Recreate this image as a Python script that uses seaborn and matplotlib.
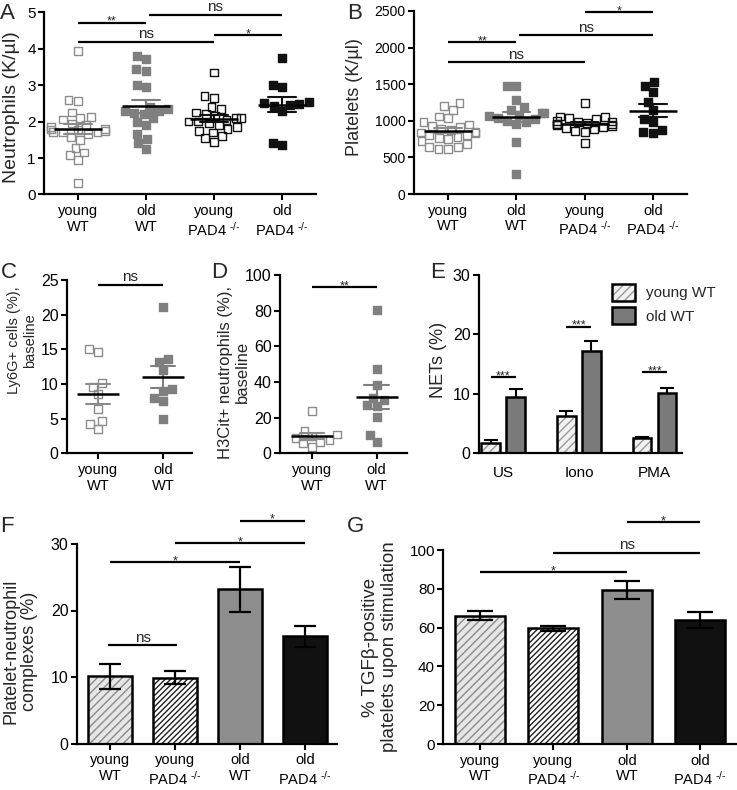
import numpy as np
import pandas as pd
import matplotlib
matplotlib.use("Agg")
import matplotlib.pyplot as plt
import seaborn as sns
from matplotlib.patches import Patch
from matplotlib.legend_handler import HandlerTuple

# ---------------- data ----------------
cats4 = ["young WT", "old WT", "young PAD4", "old PAD4"]
SUP = "$^{\u2010/\u2010}$"
cat_labels4 = ["young\nWT", "old\nWT", "young\nPAD4 " + SUP, "old\nPAD4 " + SUP]

a_young_wt = [3.95, 2.60, 2.56, 2.25, 2.12, 2.09, 2.06, 1.95, 1.90, 1.86, 1.80, 1.76, 1.72,
              1.70, 1.78, 1.74, 1.70, 1.65, 1.58, 1.50, 1.28, 1.15, 1.08, 0.95, 0.32]
a_old_wt = [3.80, 3.72, 3.44, 3.40, 3.00, 2.95, 2.40, 2.35, 2.30, 2.30, 2.25, 2.20, 2.10,
            2.00, 1.92, 1.65, 1.52, 1.40, 1.25]
a_young_pad4 = [3.35, 2.70, 2.65, 2.40, 2.35, 2.25, 2.20, 2.15, 2.10, 2.10, 2.05, 2.00, 2.00,
                1.95, 1.90, 1.85, 1.80, 1.75, 1.70, 1.60, 1.55, 1.45]
a_old_pad4 = [3.75, 3.00, 2.95, 2.55, 2.50, 2.48, 2.45, 2.42, 2.30, 1.40, 1.35]

b_young_wt = [1240, 1200, 1150, 1060, 1040, 980, 950, 930, 910, 890, 870, 850, 840, 830, 810,
              800, 780, 770, 750, 720, 680, 640, 620, 640, 620]
b_old_wt = [1480, 1470, 1290, 1190, 1150, 1100, 1100, 1080, 1060, 1040, 1020, 1000, 980, 960,
            710, 280]
b_young_pad4 = [1240, 1060, 1050, 1040, 1030, 1000, 990, 980, 970, 960, 950, 950, 940, 930,
                920, 900, 880, 860, 850, 700]
b_old_pad4 = [1530, 1480, 1400, 1260, 1150, 1030, 990, 880, 850, 830]

cats2 = ["young WT", "old WT"]
cat_labels2 = ["young\nWT", "old\nWT"]
c_young_wt = [15.1, 14.6, 10.1, 9.6, 8.5, 6.4, 4.7, 4.2, 3.5]
c_old_wt = [21.1, 13.6, 13.2, 12.0, 9.3, 9.0, 8.0, 7.5, 5.0]
d_young_wt = [23.6, 12.5, 10.5, 9.5, 8.5, 7.5, 6.5, 5.5, 3.5]
d_old_wt = [80.4, 47.1, 38.2, 31.3, 29.8, 27.0, 26.6, 20.5, 10.2, 6.5]

e_stim = ["US", "Iono", "PMA"]
e_ages = ["young WT", "old WT"]
e_young_mean = [1.8, 6.3, 2.5]
e_young_sem = [0.45, 0.9, 0.3]
e_old_mean = [9.4, 17.2, 10.2]
e_old_sem = [1.4, 1.7, 0.8]

fg_cats = ["young WT", "young PAD4", "old WT", "old PAD4"]
fg_labels = ["young\nWT", "young\nPAD4 " + SUP, "old\nWT", "old\nPAD4 " + SUP]
f_mean = [10.1, 9.9, 23.2, 16.1]
f_sem = [1.9, 1.0, 3.4, 1.6]
g_mean = [66.0, 59.6, 79.4, 63.9]
g_sem = [2.3, 1.2, 4.4, 4.3]

# significance brackets: (x1, x2, y, label)
sig_a = [(0, 1, 4.72, "**"), (0, 2, 4.19, "ns"), (1.04, 3, 4.94, "ns"), (2, 3, 4.38, "*")]
sig_b = [(0, 1, 2071, "**"), (0, 2, 1798, "ns"), (1.04, 3, 2166, "ns"), (2.01, 3, 2480, "*")]
sig_c = [(0, 1, 24.3, "ns")]
sig_d = [(0, 1, 93.2, "**")]
sig_e = [(-0.165, 0.165, 12.8, "***"), (0.835, 1.165, 21.3, "***"), (1.835, 2.165, 13.7, "***")]
sig_f = [(-0.03, 1.03, 14.8, "ns"), (0, 2, 27.3, "*"), (1, 3, 30.1, "*"), (2, 3, 33.5, "*")]
sig_g = [(0, 2, 88.7, "*"), (1, 3, 98.5, "ns"), (2, 3, 114.3, "*")]

# ---------------- style ----------------
sns.set_style("ticks")
plt.rcParams["font.family"] = ["Liberation Sans", "DejaVu Sans"]
plt.rcParams["mathtext.fontset"] = "custom"
plt.rcParams["mathtext.rm"] = "Liberation Sans"
plt.rcParams["mathtext.it"] = "Liberation Sans:italic"
plt.rcParams["mathtext.bf"] = "Liberation Sans:bold"
plt.rcParams["hatch.linewidth"] = 1.0

GRAY_OPEN = "#8c8c8c"
GRAY_FILL = "#7f7f7f"
BLACK = "#111111"

W, H = 737, 790
fig = plt.figure(figsize=(W / 100, H / 100), dpi=100)


def add_ax(l, t, r, b):
    return fig.add_axes([l / W, 1 - b / H, (r - l) / W, (b - t) / H])


def style_ax(ax, ylim, yticks, xlim, xlabels, num_fs=11, cat_fs=10.5, xtick_len=4, xpad=3):
    ax.set_ylim(*ylim)
    ax.set_yticks(yticks)
    ax.set_xlim(*xlim)
    ax.set_xticks(range(len(xlabels)))
    ax.set_xticklabels(xlabels, fontsize=cat_fs, linespacing=1.15)
    ax.tick_params(axis="y", labelsize=num_fs, width=1.5, length=4, pad=2, colors="black")
    ax.tick_params(axis="x", width=1.5, length=xtick_len, pad=xpad, colors="black")
    for s in ["top", "right"]:
        ax.spines[s].set_visible(False)
    for s in ["left", "bottom"]:
        ax.spines[s].set_linewidth(1.6)
        ax.spines[s].set_color("black")
    ax.set_xlabel("")
    ax.set_facecolor("none")


def ylabel(ax, text, fs, x, y):
    ax.set_ylabel(text, fontsize=fs, linespacing=1.15)
    ax.yaxis.set_label_coords(x, y)


def sig(ax, items):
    for x1, x2, y, label in items:
        ax.plot([x1, x2], [y, y], color="black", lw=1.6, clip_on=False,
                solid_capstyle="butt", zorder=5)
        if "*" in label:
            ax.annotate(label, ((x1 + x2) / 2, y), xytext=(0, -1.5), textcoords="offset points",
                        ha="center", va="baseline", fontsize=9, annotation_clip=False)
        else:
            ax.annotate(label, ((x1 + x2) / 2, y), xytext=(0, 2.5), textcoords="offset points",
                        ha="center", va="baseline", fontsize=11, annotation_clip=False)


def scatter_panel(ax, groups, cats, colors, filled, mean_w, cap):
    df = pd.DataFrame({"group": np.repeat(cats, [len(g) for g in groups]),
                       "value": np.concatenate(groups)})
    for cat, col, fill in zip(cats, colors, filled):
        sub = df[df["group"] == cat]
        n_before = len(ax.collections)
        sns.swarmplot(data=sub, x="group", y="value", order=cats, marker="s", size=5.6,
                      color=col, ax=ax, zorder=2, warn_thresh=1.0)
        for coll in ax.collections[n_before:]:
            coll.set_facecolor(col if fill else "none")
            coll.set_edgecolor(col)
            coll.set_linewidth(1.0)
    sns.pointplot(data=df, x="group", y="value", order=cats, hue="group", hue_order=cats,
                  palette=colors, errorbar="se", capsize=cap, linestyle="none", markersize=0,
                  err_kws={"linewidth": 1.5, "zorder": 3}, legend=False, ax=ax)
    sns.pointplot(data=df, x="group", y="value", order=cats, errorbar=None, color="black",
                  marker="_", markersize=mean_w, markeredgewidth=1.8, linestyle="none",
                  ax=ax, zorder=4)


def hatched_bars(ax, cats, means, fills, hatches, hatch_cols, width, **kw):
    sns.barplot(x=cats, y=means, hue=cats, order=cats, hue_order=cats, palette=fills,
                width=width, errorbar=None, linewidth=0, legend=False, ax=ax, zorder=2, **kw)
    for cont, hatch, hc in zip(ax.containers, hatches, hatch_cols):
        for p in cont:
            p.set_hatch(hatch)
            p.set_edgecolor(hc)
            p.set_linewidth(0)
    sns.barplot(x=cats, y=means, order=cats, color="black", fill=False, width=width,
                errorbar=None, linewidth=1.8, ax=ax, zorder=3, **kw)


# ---------------- A ----------------
axA = add_ax(44, 12.4, 316, 194.4)
scatter_panel(axA, [a_young_wt, a_old_wt, a_young_pad4, a_old_pad4], cats4,
              [GRAY_OPEN, GRAY_FILL, BLACK, BLACK], [False, True, False, True], 34, 0.4)
style_ax(axA, (0, 5), range(0, 6), (-0.5, 3.5), cat_labels4, num_fs=11)
ylabel(axA, "Neutrophils (K/µl)", 14, -0.09, 0.48)
sig(axA, sig_a)

# ---------------- B ----------------
axB = add_ax(414, 11, 687, 194)
scatter_panel(axB, [b_young_wt, b_old_wt, b_young_pad4, b_old_pad4], cats4,
              [GRAY_OPEN, GRAY_FILL, BLACK, BLACK], [False, True, False, True], 34, 0.4)
style_ax(axB, (0, 2500), range(0, 2501, 500), (-0.5, 3.5), cat_labels4, num_fs=10)
ylabel(axB, "Platelets (K/µl)", 13, -0.187, 0.527)
sig(axB, sig_b)

# ---------------- C ----------------
axC = add_ax(67, 280, 192, 453.3)
scatter_panel(axC, [c_young_wt, c_old_wt], cats2, [GRAY_OPEN, GRAY_FILL], [False, True], 30, 0.38)
style_ax(axC, (0, 25), range(0, 26, 5), (-0.48, 1.45), cat_labels2, num_fs=11.5)
ylabel(axC, "Ly6G+ cells (%),\nbaseline", 10.5, -0.24, 0.65)
sig(axC, sig_c)

# ---------------- D ----------------
axD = add_ax(280, 275.3, 407, 453.3)
scatter_panel(axD, [d_young_wt, d_old_wt], cats2, [GRAY_OPEN, GRAY_FILL], [False, True], 30, 0.38)
style_ax(axD, (0, 100), range(0, 101, 20), (-0.5, 1.47), cat_labels2, num_fs=11.5)
ylabel(axD, "H3Cit+ neutrophils (%),\nbaseline", 12, -0.236, 0.455)
sig(axD, sig_d)

# ---------------- E ----------------
axE = add_ax(479, 275, 682, 453.3)
dfE = pd.DataFrame({"stim": e_stim * 2,
                    "age": [e_ages[0]] * 3 + [e_ages[1]] * 3,
                    "value": e_young_mean + e_old_mean})
sns.barplot(data=dfE, x="stim", y="value", hue="age", order=e_stim, hue_order=e_ages,
            palette=["#f2f2f2", "#7a7a7a"], width=0.66, gap=0.26, errorbar=None,
            linewidth=0, legend=False, ax=axE, zorder=2)
for p in axE.containers[0]:
    p.set_hatch("////")
    p.set_edgecolor("#9a9a9a")
sns.barplot(data=dfE, x="stim", y="value", hue="age", order=e_stim, hue_order=e_ages,
            palette=["black", "black"], fill=False, width=0.66, gap=0.26, errorbar=None,
            linewidth=1.8, legend=False, ax=axE, zorder=3)
for cont, sems in zip(axE.containers[:2], [e_young_sem, e_old_sem]):
    xs = [p.get_x() + p.get_width() / 2 for p in cont]
    ys = [p.get_height() for p in cont]
    axE.errorbar(xs, ys, yerr=sems, fmt="none", ecolor="black", elinewidth=1.5,
                 capsize=4.7, capthick=1.5, zorder=1)
style_ax(axE, (0, 30), [0, 10, 20, 30], (-0.32, 2.36), e_stim, num_fs=11.5,
         cat_fs=11, xtick_len=0, xpad=9)
ylabel(axE, "NETs (%)", 13, -0.158, 0.524)
sig(axE, sig_e)
h_young = (Patch(facecolor="#f2f2f2", edgecolor="#9a9a9a", hatch="////", lw=0),
           Patch(facecolor="none", edgecolor="black", lw=1.8))
h_old = Patch(facecolor="#7a7a7a", edgecolor="black", lw=1.8)
axE.legend([h_young, h_old], e_ages, handler_map={tuple: HandlerTuple(ndivide=1, pad=0)},
           loc="upper left", bbox_to_anchor=(0.655, 0.95), frameon=False, fontsize=11,
           handlelength=1.5, handleheight=1.3, handletextpad=0.7, labelspacing=0.45,
           borderaxespad=0, borderpad=0)

# ---------------- F ----------------
bar_fills = ["#e6e6e6", "#ffffff", "#8e8e8e", BLACK]
bar_hatches = ["////", "//////", "", ""]
bar_hatch_cols = ["#8a8a8a", "#222222", "#8e8e8e", BLACK]

axF = add_ax(77, 544, 337, 743.5)
hatched_bars(axF, fg_cats, f_mean, bar_fills, bar_hatches, bar_hatch_cols, 0.68)
axF.errorbar(range(len(fg_cats)), f_mean, yerr=f_sem, fmt="none", ecolor="black",
             elinewidth=1.6, capsize=8.2, capthick=1.6, zorder=4)
style_ax(axF, (0, 30), [0, 10, 20, 30], (-0.51, 3.49), fg_labels, num_fs=11.5)
ylabel(axF, "Platelet-neutrophil\ncomplexes (%)", 13, -0.15, 0.464)
sig(axF, sig_f)

# ---------------- G ----------------
axG = add_ax(443.3, 550, 737, 744)
hatched_bars(axG, fg_cats, g_mean, bar_fills, bar_hatches, bar_hatch_cols, 0.68)
axG.errorbar(range(len(fg_cats)), g_mean, yerr=g_sem, fmt="none", ecolor="black",
             elinewidth=1.6, capsize=9.5, capthick=1.6, zorder=4)
style_ax(axG, (0, 100), range(0, 101, 20), (-0.5, 3.5), fg_labels, num_fs=11)
ylabel(axG, "% TGFβ-positive\nplatelets upon stimulation", 13.5, -0.154, 0.5)
sig(axG, sig_g)

# ---------------- panel letters ----------------
for letter, (x, y) in {"A": (0, 3), "B": (347, 3), "C": (1, 262), "D": (211, 262),
                       "E": (430, 262), "F": (0, 516), "G": (347, 516)}.items():
    fig.text(x / W, 1 - y / H, letter, fontsize=16, ha="left", va="top")

fig.savefig("out.png", dpi=100)
